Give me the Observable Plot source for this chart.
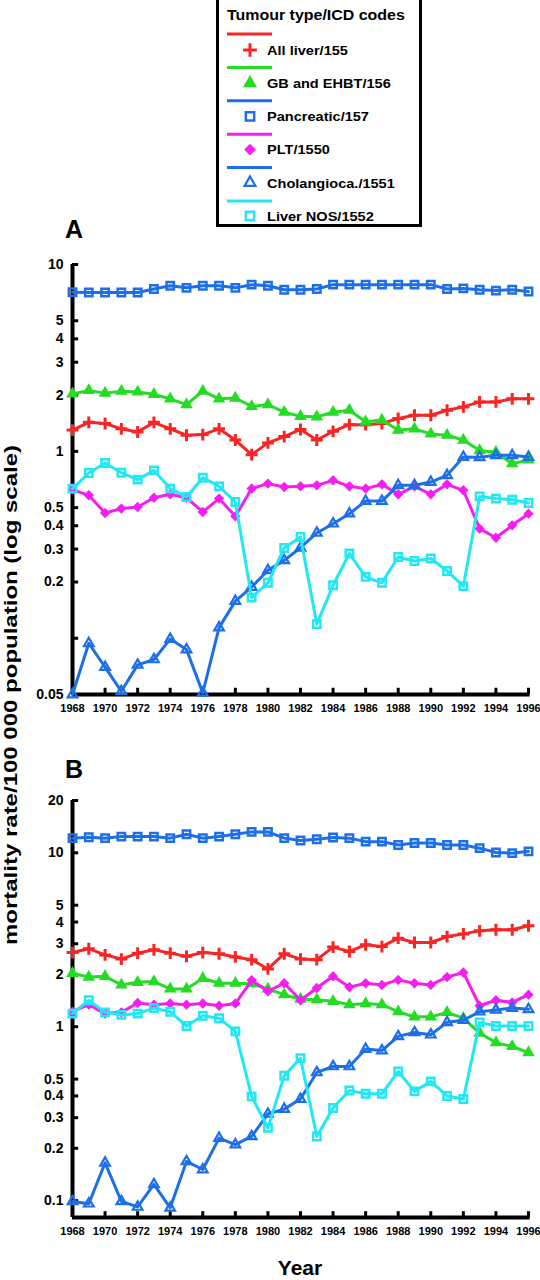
<!DOCTYPE html>
<html><head><meta charset="utf-8">
<script src="https://cdn.jsdelivr.net/npm/d3@7"></script>
<script src="https://cdn.jsdelivr.net/npm/@observablehq/plot@0.6"></script>
<style>
body{margin:0;background:#fff;}
#root{position:relative;width:540px;height:1280px;overflow:hidden;font-family:"Liberation Sans",Arial,Helvetica,sans-serif;font-weight:bold;color:#000;}
.abs{position:absolute;white-space:nowrap;line-height:1;}
</style></head><body><div id="root"></div>
<script>
// ---------- data ----------
const years = [1968,1969,1970,1971,1972,1973,1974,1975,1976,1977,1978,1979,1980,1981,1982,1983,1984,1985,1986,1987,1988,1989,1990,1991,1992,1993,1994,1995,1996];
const xTickYears = [1968,1970,1972,1974,1976,1978,1980,1982,1984,1986,1988,1990,1992,1994,1996];
const seriesNames = ["All liver/155","GB and EHBT/156","Pancreatic/157","PLT/1550","Cholangioca./1551","Liver NOS/1552"];
const legendTitle = "Tumour type/ICD codes";

// Panel A
const allLiverA = [1.30,1.43,1.41,1.32,1.27,1.43,1.32,1.22,1.23,1.32,1.15,0.96,1.11,1.20,1.31,1.15,1.28,1.39,1.39,1.41,1.50,1.56,1.56,1.66,1.73,1.84,1.84,1.91,1.91];
const gbA       = [2.03,2.12,2.05,2.10,2.08,2.02,1.91,1.78,2.10,1.91,1.93,1.74,1.78,1.62,1.54,1.53,1.62,1.66,1.44,1.47,1.30,1.32,1.24,1.22,1.15,1.01,0.99,0.86,0.90];
const pancA     = [7.10,7.08,7.08,7.08,7.08,7.40,7.70,7.50,7.70,7.70,7.50,7.80,7.70,7.33,7.33,7.40,7.80,7.80,7.80,7.80,7.80,7.80,7.80,7.40,7.45,7.33,7.25,7.33,7.17];
const pltA      = [0.624,0.582,0.468,0.494,0.504,0.565,0.589,0.565,0.474,0.559,0.449,0.632,0.672,0.645,0.650,0.658,0.700,0.650,0.632,0.666,0.589,0.650,0.589,0.666,0.619,0.386,0.345,0.402,0.464];
const cholA     = [0.050,0.094,0.070,0.052,0.072,0.077,0.099,0.087,0.051,0.114,0.158,0.188,0.231,0.261,0.305,0.366,0.410,0.464,0.542,0.542,0.658,0.658,0.685,0.744,0.933,0.930,0.952,0.952,0.933];
const nosA      = [0.632,0.766,0.866,0.769,0.706,0.791,0.632,0.570,0.723,0.650,0.536,0.165,0.198,0.304,0.348,0.119,0.192,0.284,0.213,0.198,0.272,0.259,0.267,0.229,0.190,0.574,0.559,0.551,0.529];

// Panel B
const allLiverB = [2.67,2.81,2.59,2.45,2.65,2.77,2.65,2.54,2.67,2.63,2.52,2.43,2.15,2.63,2.45,2.43,2.87,2.71,2.96,2.89,3.23,3.05,3.05,3.30,3.42,3.56,3.61,3.61,3.81];
const gbB       = [2.03,1.93,1.95,1.74,1.80,1.82,1.65,1.65,1.90,1.78,1.78,1.77,1.65,1.53,1.44,1.43,1.40,1.34,1.36,1.34,1.22,1.14,1.14,1.21,1.12,0.92,0.81,0.77,0.71];
const pancB     = [12.15,12.3,12.15,12.4,12.4,12.4,12.15,12.8,12.15,12.4,12.8,13.2,13.2,12.15,11.77,11.98,12.25,12.15,11.6,11.6,11.1,11.4,11.4,11.1,11.1,10.64,10.04,9.96,10.2];
const pltB      = [1.22,1.34,1.19,1.21,1.37,1.34,1.36,1.34,1.36,1.32,1.36,1.85,1.60,1.78,1.42,1.67,1.95,1.69,1.78,1.74,1.86,1.78,1.74,1.93,2.05,1.32,1.42,1.38,1.53];
const cholB     = [0.099,0.096,0.165,0.099,0.092,0.124,0.091,0.168,0.151,0.229,0.210,0.234,0.315,0.336,0.384,0.546,0.591,0.591,0.744,0.730,0.880,0.928,0.900,1.06,1.09,1.22,1.25,1.28,1.26];
const nosB      = [1.19,1.42,1.21,1.17,1.19,1.28,1.22,1.01,1.157,1.12,0.94,0.398,0.262,0.523,0.660,0.234,0.341,0.430,0.412,0.412,0.553,0.425,0.485,0.400,0.384,1.06,1.01,1.01,1.01];

const yDomainA = [0.05, 10];
const yTicksA = [10,5,4,3,2,1,0.5,0.4,0.3,0.2,0.1,0.05];
const yLabelsA = ["10","5","4","3","2","1","0.5","0.4","0.3","0.2","0.05"];
const yDomainB = [0.08, 20];
const yTicksB = [20,10,5,4,3,2,1,0.5,0.4,0.3,0.2,0.1];
const yLabelsB = ["20","10","5","4","3","2","1","0.5","0.4","0.3","0.2","0.1"];

// ---------- styles ----------
const RED="#f92525", GREEN="#25dc25", BLUE="#1c6fe8", MAGENTA="#f51ef0", CYAN="#22e8f4";
const styles = [
  {color: RED,     symbol: "plus",      d3sym: d3.symbolPlus,      r: 3.9, fill: "none",   sw: 3},
  {color: GREEN,   symbol: "triangle",  d3sym: d3.symbolTriangle,  r: 3.7, fill: GREEN,    sw: 1.5},
  {color: BLUE,    symbol: "square2",   d3sym: d3.symbolSquare2,   r: 4.7, fill: "none",   sw: 2.5},
  {color: MAGENTA, symbol: "diamond2",  d3sym: d3.symbolDiamond2,  r: 3.9, fill: MAGENTA,  sw: 1.2},
  {color: BLUE,    symbol: "triangle2", d3sym: d3.symbolTriangle2, r: 4.6, fill: "none",   sw: 2.2},
  {color: CYAN,    symbol: "square2",   d3sym: d3.symbolSquare2,   r: 4.7, fill: "none",   sw: 2.5}
];

const root = document.getElementById("root");
const FONT = "Liberation Sans, Arial, Helvetica, sans-serif";

function panel(series, yDomain, yTicks, yLabels, top, height, mt, mb) {
  const marks = [
    Plot.ruleX([years[0]], {y1: yDomain[0], y2: yDomain[1], stroke: "#000", strokeWidth: 4}),
    Plot.ruleY([yDomain[0]], {x1: years[0], x2: years[years.length-1] + 0.1, stroke: "#000", strokeWidth: 4}),
    Plot.ruleY(yTicks, {x1: years[0], x2: years[0] + 0.38, stroke: "#000", strokeWidth: 3}),
    Plot.ruleX(xTickYears, {y1: yDomain[0], y2: yDomain[0] * 1.08, stroke: "#000", strokeWidth: 3}),
    Plot.text(xTickYears, {x: d => d, y: () => yDomain[0], text: d => String(d), dy: 14, fontSize: 11, fontWeight: "bold", fill: "#000"}),
    Plot.text(yLabels, {x: () => years[0], y: d => +d, text: d => d, textAnchor: "end", dx: -9, fontSize: 14, fontWeight: "bold", fill: "#000"})
  ];
  series.forEach((vals, k) => {
    const s = styles[k];
    marks.push(Plot.line(vals, {x: (d, i) => years[i], y: d => d, stroke: s.color, strokeWidth: 3, strokeLinejoin: "round"}));
    marks.push(Plot.dot(vals, {x: (d, i) => years[i], y: d => d, symbol: s.symbol, r: s.r, fill: s.fill, stroke: s.color, strokeWidth: s.sw}));
  });
  const svg = Plot.plot({
    width: 540, height,
    marginLeft: 72, marginRight: 12, marginTop: mt, marginBottom: mb,
    x: {domain: d3.extent(years), axis: null},
    y: {type: "log", domain: yDomain, axis: null},
    style: {background: "transparent", overflow: "visible", fontFamily: FONT, color: "#000"},
    marks
  });
  const wrap = document.createElement("div");
  wrap.className = "abs";
  wrap.style.left = "0px"; wrap.style.top = top + "px";
  wrap.appendChild(svg);
  root.appendChild(wrap);
}

panel([allLiverA, gbA, pancA, pltA, cholA, nosA], yDomainA, yTicksA, yLabelsA, 230, 490, 34, 26);
panel([allLiverB, gbB, pancB, pltB, cholB, nosB], yDomainB, yTicksB, yLabelsB, 770, 480, 30, 33);

// ---------- legend ----------
const leg = d3.create("svg").attr("width", 540).attr("height", 232)
  .style("position", "absolute").style("left", "0px").style("top", "0px").style("overflow", "visible");
leg.append("rect").attr("x", 217.5).attr("y", -5).attr("width", 203).attr("height", 230.5)
  .attr("fill", "#fff").attr("stroke", "#000").attr("stroke-width", 3);
leg.append("text").attr("transform", "translate(227,20) scale(1.14,1)")
  .attr("font-family", FONT).attr("font-weight", "bold").attr("font-size", 14).text(legendTitle);
seriesNames.forEach((name, k) => {
  const s = styles[k];
  const ly = 34 + k * 33.4, ty = 50 + k * 33.2;
  leg.append("line").attr("x1", 227).attr("x2", 272).attr("y1", ly).attr("y2", ly)
    .attr("stroke", s.color).attr("stroke-width", 3);
  leg.append("path").attr("d", d3.symbol(s.d3sym, Math.PI * (s.r + 0.6) * (s.r + 0.6))())
    .attr("transform", `translate(250,${ty})`)
    .attr("fill", s.fill).attr("stroke", s.color).attr("stroke-width", s.sw);
  leg.append("text").attr("transform", `translate(267,${ty + 4.7}) scale(1.12,1)`)
    .attr("font-family", FONT).attr("font-weight", "bold").attr("font-size", 13).text(name);
});
root.appendChild(leg.node());

// ---------- labels ----------
function label(text, css) {
  const d = document.createElement("div");
  d.className = "abs";
  d.textContent = text;
  Object.assign(d.style, css);
  root.appendChild(d);
}
label("A", {left: "65px", top: "217px", fontSize: "25px"});
label("B", {left: "65px", top: "757px", fontSize: "25px"});
label("Year", {left: "300px", top: "1257px", fontSize: "21px", transform: "translateX(-50%)"});
label("mortality rate/100 000 population (log scale)", {left: "11px", top: "695px", fontSize: "24px",
  transform: "translate(-50%,-50%) rotate(-90deg) scale(1,0.74)"});
</script>
</body></html>
